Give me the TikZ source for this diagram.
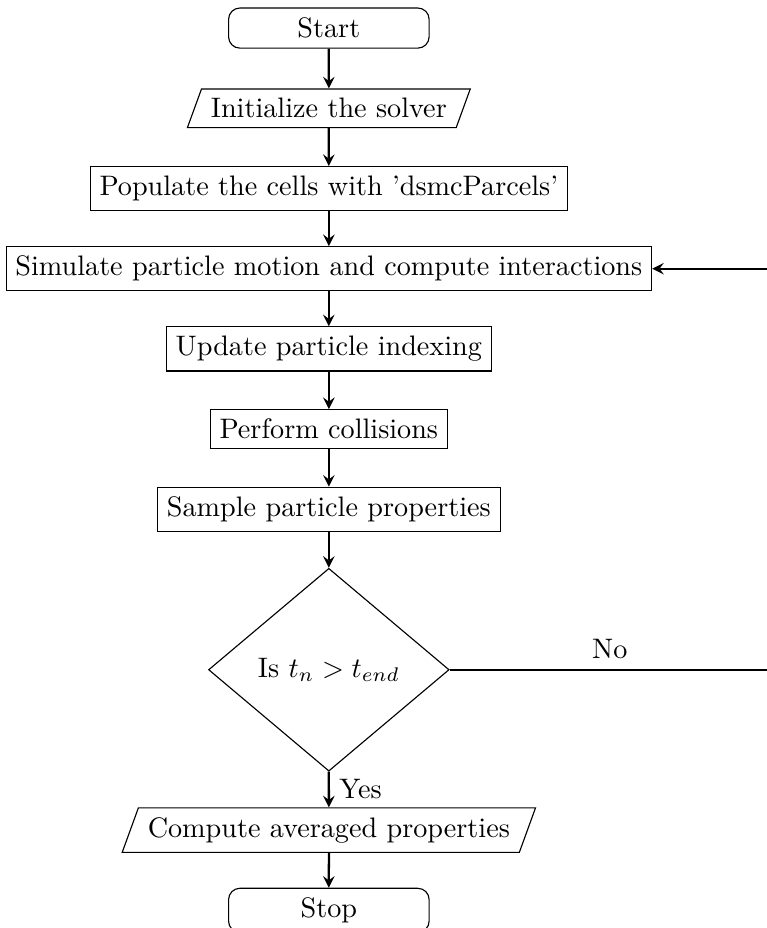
\documentclass[tikz,border=0pt]{standalone}
\usepackage{tikz}
\usepackage{amssymb}
\usetikzlibrary{calc,positioning,arrows,shapes,shapes.geometric}

\begin{document}
\begin{tikzpicture}
			\tikzset{terminal/.style={draw,rectangle,rounded corners,minimum width=2.5cm,minimum height=0.5cm}}
			\tikzset{io/.style={draw,trapezium,trapezium left angle=70,trapezium right angle=110}}
			\tikzset{process/.style={draw,rectangle}}
			\tikzset{decision/.style={draw,diamond,minimum width=3cm}}
			\tikzset{flow/.style={->,>=stealth,thick}}
			\useasboundingbox (-4.10,0.35) rectangle (5.46,-11.22);
			\node [terminal] (start) at (0,0) {Start};
			\node [io] (init) at (0,-1) {Initialize the solver};
			\node [process] (pop) at (0,-2) {Populate the cells with 'dsmcParcels'};
			\node [process] (sim) at (0,-3) {Simulate particle motion and compute interactions};
			\node [process] (upd) at (0,-4) {Update particle indexing};
			\node [process] (coll) at (0,-5) {Perform collisions};
			\node [process] (samp) at (0,-6) {Sample particle properties};
			\node [decision] (dec) at (0,-8) {Is $t_n > t_{end}$};
			\node [io] (avg) at (0,-10) {Compute averaged properties};
			\node [terminal] (stop) at (0,-11) {Stop};
			\coordinate (loop) at (5.5,-8);
			\draw [flow] (start) -- (init);
			\draw [flow] (init) -- (pop);
			\draw [flow] (pop) -- (sim);
			\draw [flow] (sim) -- (upd);
			\draw [flow] (upd) -- (coll);
			\draw [flow] (coll) -- (samp);
			\draw [flow] (samp) -- (dec);
			\draw [flow] (dec) -- node[right] {Yes} (avg);
			\draw [flow] (avg) -- (stop);
			\draw [flow] (dec.east) -- node[above] {No} (loop) |- (sim.east);
		\end{tikzpicture}
\end{document}
